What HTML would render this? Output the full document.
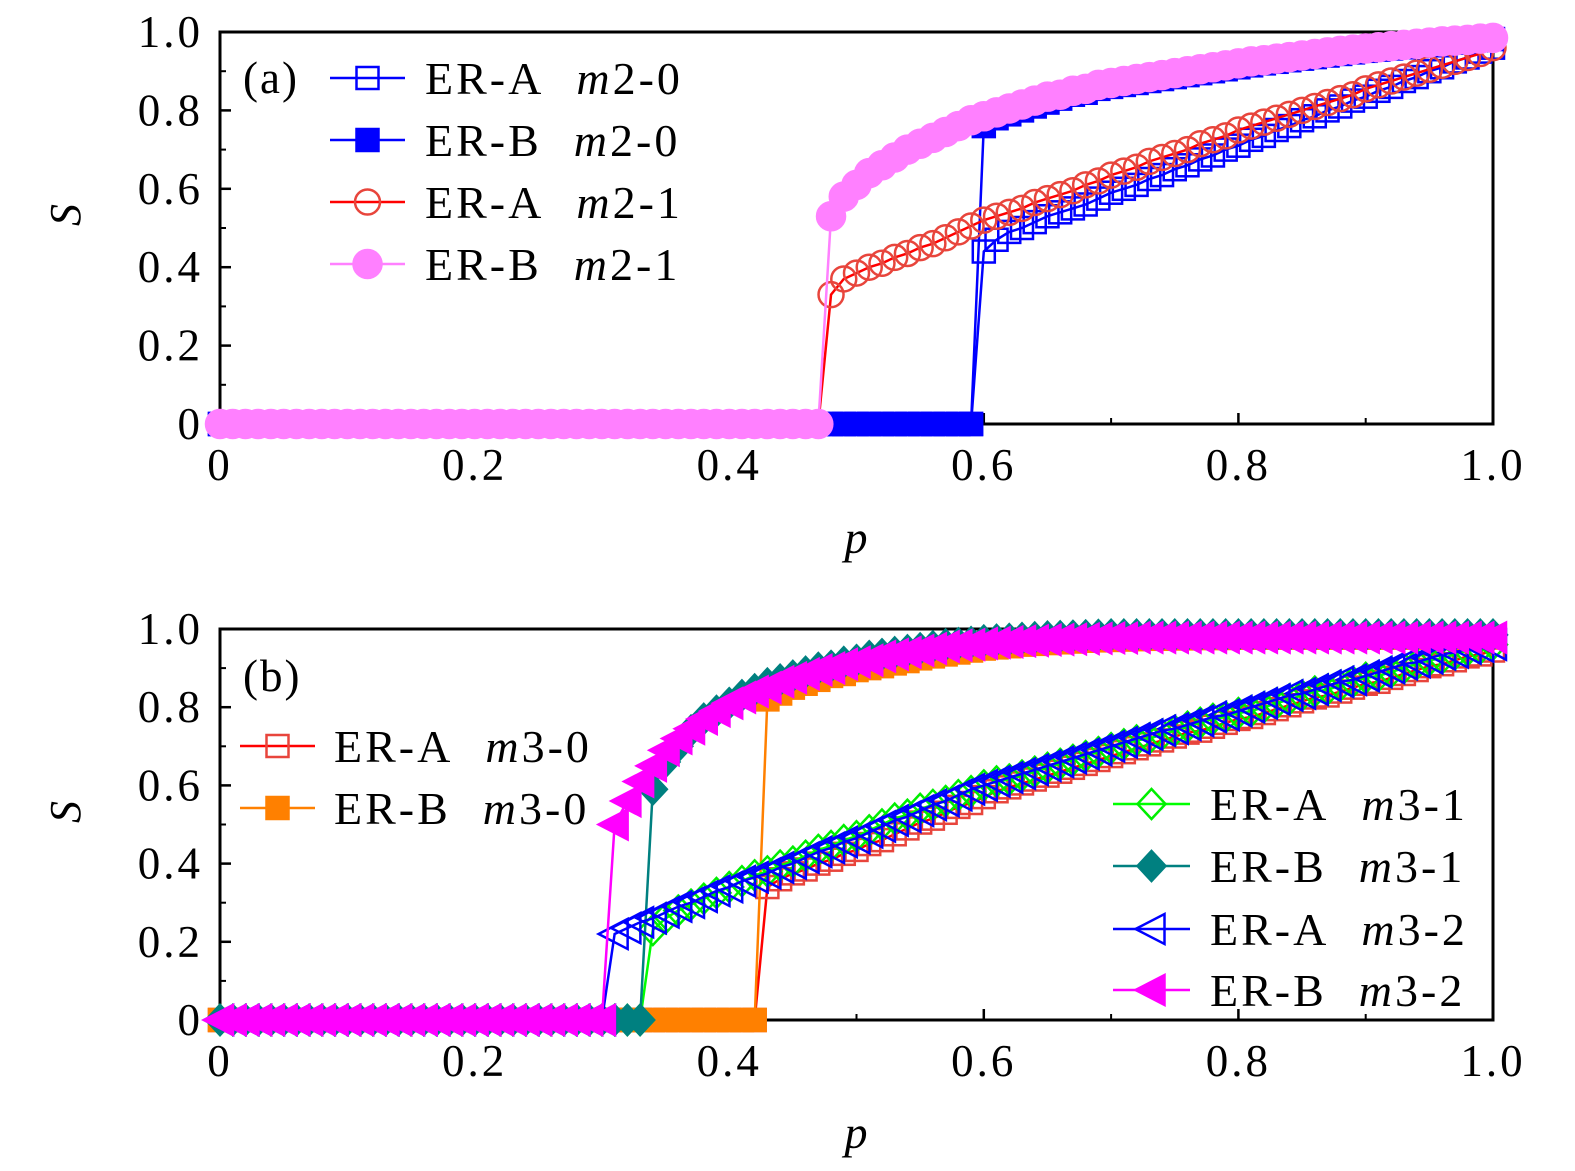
<!DOCTYPE html>
<html><head><meta charset="utf-8">
<style>
html,body{margin:0;padding:0;background:#fff;}
svg{display:block;font-family:"Liberation Serif",serif;}
</style></head>
<body>
<svg id="fig" width="1575" height="1171" viewBox="0 0 1575 1171" xmlns="http://www.w3.org/2000/svg">
</svg>
<script>
// ---------- data (p = (start + i)/100; points before start are S = 0) ----------
const xTicks = [0, 0.2, 0.4, 0.6, 0.8, 1.0];
const xTickLabels = ["0", "0.2", "0.4", "0.6", "0.8", "1.0"];
const yTicks = [0, 0.2, 0.4, 0.6, 0.8, 1.0];
const yTickLabels = ["0", "0.2", "0.4", "0.6", "0.8", "1.0"];

// panel (a)
const aStarts = [60, 60, 48, 48];
const aNames = ["ER-A", "ER-B", "ER-A", "ER-B"];
const aCodes = ["m2-0", "m2-0", "m2-1", "m2-1"];
const a_ERA_m20 = [.44,.47,.49,.50,.515,.53,.54,.55,.56,.575,.59,.60,.61,.625,.635,.65,.66,.675,.685,.70,.71,.725,.735,.75,.76,.775,.785,.80,.81,.825,.835,.85,.86,.875,.885,.90,.91,.925,.935,.95,.96];
const a_ERB_m20 = [.76,.78,.79,.80,.81,.82,.83,.84,.845,.855,.86,.865,.87,.875,.88,.885,.89,.895,.90,.905,.91,.915,.92,.924,.928,.932,.936,.94,.944,.948,.952,.955,.958,.961,.964,.967,.97,.973,.976,.979,.982];
const a_ERA_m21 = [.33,.37,.385,.40,.41,.425,.435,.45,.46,.475,.49,.505,.52,.53,.54,.55,.565,.575,.585,.595,.61,.62,.635,.645,.655,.67,.68,.69,.70,.715,.725,.735,.75,.76,.77,.78,.79,.80,.81,.82,.83,.84,.855,.865,.875,.885,.895,.905,.915,.925,.935,.945,.96];
const a_ERB_m21 = [.53,.58,.61,.64,.66,.68,.70,.715,.73,.745,.76,.775,.785,.795,.805,.815,.825,.835,.84,.85,.855,.865,.87,.875,.88,.885,.89,.895,.90,.905,.91,.915,.92,.925,.928,.932,.936,.94,.944,.948,.952,.955,.958,.961,.964,.967,.97,.973,.976,.978,.98,.983,.985];

// panel (b)
const bStarts = [43, 43, 34, 34, 31, 31];
const bNames = ["ER-A", "ER-B", "ER-A", "ER-B", "ER-A", "ER-B"];
const bCodes = ["m3-0", "m3-0", "m3-1", "m3-1", "m3-2", "m3-2"];
const b_ERA_m30 = [.34,.36,.375,.385,.40,.41,.425,.435,.45,.46,.475,.49,.505,.515,.53,.545,.555,.57,.585,.595,.605,.615,.625,.635,.645,.655,.665,.675,.685,.695,.705,.715,.725,.735,.74,.75,.76,.77,.775,.785,.795,.805,.815,.825,.83,.84,.85,.86,.865,.875,.885,.895,.905,.91,.92,.93,.935,.945];
const b_ERB_m30 = [.82,.835,.85,.86,.87,.88,.885,.895,.90,.905,.912,.918,.925,.93,.935,.94,.945,.95,.953,.956,.96,.962,.964,.966,.968,.97,.971,.972,.973,.974,.975,.975,.976,.976,.977,.977,.977,.978,.978,.978,.978,.978,.978,.978,.978,.978,.978,.978,.978,.978,.978,.978,.978,.978,.978,.978,.978,.978];
const b_ERA_m31 = [.23,.26,.28,.295,.31,.325,.34,.355,.37,.38,.395,.405,.42,.435,.445,.46,.47,.485,.50,.515,.525,.54,.55,.56,.575,.585,.60,.61,.615,.625,.635,.645,.655,.665,.675,.685,.695,.705,.715,.72,.73,.74,.75,.76,.77,.775,.785,.79,.80,.81,.82,.83,.84,.845,.855,.865,.875,.88,.89,.90,.91,.92,.925,.935,.945,.95,.96];
const b_ERB_m31 = [.59,.66,.70,.74,.77,.79,.81,.83,.845,.86,.87,.88,.89,.90,.905,.915,.92,.93,.935,.94,.945,.95,.955,.96,.963,.966,.97,.972,.974,.976,.978,.98,.981,.982,.983,.984,.985,.985,.985,.985,.985,.985,.985,.985,.985,.985,.985,.985,.985,.985,.985,.985,.985,.985,.985,.985,.985,.985,.985,.985,.985,.985,.985,.985,.985,.985,.985];
const b_ERA_m32 = [.22,.235,.25,.26,.275,.29,.30,.315,.33,.34,.355,.365,.375,.39,.40,.415,.43,.44,.455,.465,.48,.495,.51,.52,.535,.55,.56,.575,.59,.60,.61,.62,.63,.64,.65,.66,.67,.68,.69,.70,.71,.72,.73,.74,.745,.755,.765,.775,.78,.79,.80,.81,.82,.83,.835,.845,.855,.865,.87,.88,.89,.90,.91,.915,.925,.935,.94,.95,.955,.96];
const b_ERB_m32 = [.50,.56,.61,.65,.69,.72,.745,.77,.79,.81,.825,.84,.85,.865,.875,.885,.895,.90,.91,.915,.92,.93,.935,.94,.945,.95,.955,.958,.96,.963,.965,.967,.969,.97,.972,.973,.974,.975,.976,.977,.977,.978,.978,.978,.978,.978,.978,.978,.978,.978,.978,.978,.978,.978,.978,.978,.978,.978,.978,.978,.978,.978,.978,.978,.978,.978,.978,.978,.978,.978];

// ---------- drawing ----------
const NS = "http://www.w3.org/2000/svg";
const svg = document.getElementById("fig");
function mk(tag, attrs, parent) {
  const e = document.createElementNS(NS, tag);
  for (const k in attrs) e.setAttribute(k, attrs[k]);
  (parent || svg).appendChild(e);
  return e;
}
const X0 = 220, X1 = 1493;
function xs(p) { return X0 + p * (X1 - X0); }
function makeY(top, bottom) { return s => bottom - s * (bottom - top); }

function marker(g, type, cx, cy, color, fill) {
  const f = fill ? color : "none";
  const sw = 2.5;
  let e;
  if (type === "square") e = mk("rect", {x: cx - 11, y: cy - 11, width: 22, height: 22, fill: f, stroke: color, "stroke-width": sw}, g);
  else if (type === "circle") e = mk("circle", {cx: cx, cy: cy, r: fill ? 14 : 12.5, fill: f, stroke: color, "stroke-width": sw}, g);
  else if (type === "diamond") e = mk("polygon", {points: `${cx},${cy-15} ${cx+14},${cy} ${cx},${cy+15} ${cx-14},${cy}`, fill: f, stroke: color, "stroke-width": sw}, g);
  else if (type === "ltri") e = mk("polygon", {points: `${cx-16},${cy} ${cx+13},${cy-15} ${cx+13},${cy+15}`, fill: f, stroke: color, "stroke-width": sw}, g);
  
  
  return e;
}

function drawSeries(name, start, vals, ys, lineColor, mColor, type, fill) {
  const g = mk("g", {});
  
  
  const pts = [];
  for (let i = 0; i < start; i++) pts.push([i / 100, 0]);
  vals.forEach((v, i) => pts.push([(start + i) / 100, v]));
  const path = mk("polyline", {points: pts.map(q => xs(q[0]) + "," + ys(q[1])).join(" "), fill: "none", stroke: lineColor, "stroke-width": 2.5}, g);
  
  
  pts.forEach(q => marker(g, type, xs(q[0]), ys(q[1]), mColor, fill));
}

function drawAxes(panel, top, bottom, ylabelY, plabelY) {
  const ys = makeY(top, bottom);
  const r = mk("rect", {x: X0, y: top, width: X1 - X0, height: bottom - top, fill: "none", stroke: "#000", "stroke-width": 3});
  
  
  const g = mk("g", {});
  
  
  for (let i = 1; i < 10; i += 2) {
    const x = xs(i / 10);
    const t = mk("line", {x1: x, x2: x, y1: bottom, y2: bottom - 6, stroke: "#000", "stroke-width": 2}, g);
    
    
    const y = ys(i / 10);
    const u = mk("line", {x1: X0, x2: X0 + 6, y1: y, y2: y, stroke: "#000", "stroke-width": 2}, g);
    
    
  }
  xTicks.forEach((v, i) => {
    const x = xs(v);
    const t = mk("line", {x1: x, x2: x, y1: bottom, y2: bottom - 11, stroke: "#000", "stroke-width": 2.5}, g);
    
    
    const l = mk("text", {x: x, y: bottom + 56, "text-anchor": "middle", "font-size": 45, "letter-spacing": 3}, g);
    l.textContent = xTickLabels[i];
    
    
  });
  yTicks.forEach((v, i) => {
    const y = ys(v);
    const t = mk("line", {x1: X0, x2: X0 + 11, y1: y, y2: y, stroke: "#000", "stroke-width": 2.5}, g);
    
    
    const l = mk("text", {x: 203, y: y + 15, "text-anchor": "end", "font-size": 45, "letter-spacing": 3}, g);
    l.textContent = yTickLabels[i];
    
    
  });
  const yl = mk("text", {x: 80, y: ylabelY, "text-anchor": "middle", "font-size": 44, "font-style": "italic", transform: `rotate(-90 80 ${ylabelY})`}, g);
  yl.textContent = "S";
  
  
  const xl = mk("text", {x: 856, y: plabelY, "text-anchor": "middle", "font-size": 46, "font-style": "italic"}, g);
  xl.textContent = "p";
  
  
  return ys;
}
function legendEntry(x0, x1, tx, y, lineColor, mColor, type, fill, name, code) {
  const g = mk("g", {});
  
  
  mk("line", {x1: x0, x2: x1, y1: y, y2: y, stroke: lineColor, "stroke-width": 2.5}, g);
  marker(g, type, (x0 + x1) / 2, y, mColor, fill);
  const t = mk("text", {x: tx, y: y + 16, "font-size": 46, "letter-spacing": 3}, g);
  t.innerHTML = name + '<tspan dx="32" font-style="italic">m</tspan>' + code.slice(1);
}

// panel (a)
const yA = drawAxes("panel-a", 32, 424, 215, 553);
drawSeries("series-era-m2-0", aStarts[0], a_ERA_m20, yA, "#0000ff", "#0000ff", "square", false);
drawSeries("series-erb-m2-0", aStarts[1], a_ERB_m20, yA, "#0000ff", "#0000ff", "square", true);
drawSeries("series-era-m2-1", aStarts[2], a_ERA_m21, yA, "#ff0000", "#e8453c", "circle", false);
drawSeries("series-erb-m2-1", aStarts[3], a_ERB_m21, yA, "#ff80ff", "#ff80ff", "circle", true);
const la = mk("text", {x: 243, y: 93, "font-size": 45, "letter-spacing": 2}); la.textContent = "(a)";


legendEntry(330, 405, 425, 78, "#0000ff", "#0000ff", "square", false, aNames[0], aCodes[0]);
legendEntry(330, 405, 425, 140, "#0000ff", "#0000ff", "square", true, aNames[1], aCodes[1]);
legendEntry(330, 405, 425, 202, "#ff0000", "#e8453c", "circle", false, aNames[2], aCodes[2]);
legendEntry(330, 405, 425, 264, "#ff80ff", "#ff80ff", "circle", true, aNames[3], aCodes[3]);

// panel (b)
const yB = drawAxes("panel-b", 629, 1020, 812, 1148);
drawSeries("series-era-m3-0", bStarts[0], b_ERA_m30, yB, "#ff0000", "#e8453c", "square", false);
drawSeries("series-erb-m3-0", bStarts[1], b_ERB_m30, yB, "#ff8000", "#ff8000", "square", true);
drawSeries("series-era-m3-1", bStarts[2], b_ERA_m31, yB, "#00ff00", "#00ee00", "diamond", false);
drawSeries("series-erb-m3-1", bStarts[3], b_ERB_m31, yB, "#008080", "#008080", "diamond", true);
drawSeries("series-era-m3-2", bStarts[4], b_ERA_m32, yB, "#0000ff", "#0000ff", "ltri", false);
drawSeries("series-erb-m3-2", bStarts[5], b_ERB_m32, yB, "#ff00ff", "#ff00ff", "ltri", true);
const lb = mk("text", {x: 243, y: 691, "font-size": 45, "letter-spacing": 2}); lb.textContent = "(b)";


legendEntry(240, 315, 334, 746, "#ff0000", "#e8453c", "square", false, bNames[0], bCodes[0]);
legendEntry(240, 315, 334, 808, "#ff8000", "#ff8000", "square", true, bNames[1], bCodes[1]);
legendEntry(1113, 1190, 1210, 804, "#00ff00", "#00ee00", "diamond", false, bNames[2], bCodes[2]);
legendEntry(1113, 1190, 1210, 866, "#008080", "#008080", "diamond", true, bNames[3], bCodes[3]);
legendEntry(1113, 1190, 1210, 929, "#0000ff", "#0000ff", "ltri", false, bNames[4], bCodes[4]);
legendEntry(1113, 1190, 1210, 990, "#ff00ff", "#ff00ff", "ltri", true, bNames[5], bCodes[5]);
</script>
</body></html>
